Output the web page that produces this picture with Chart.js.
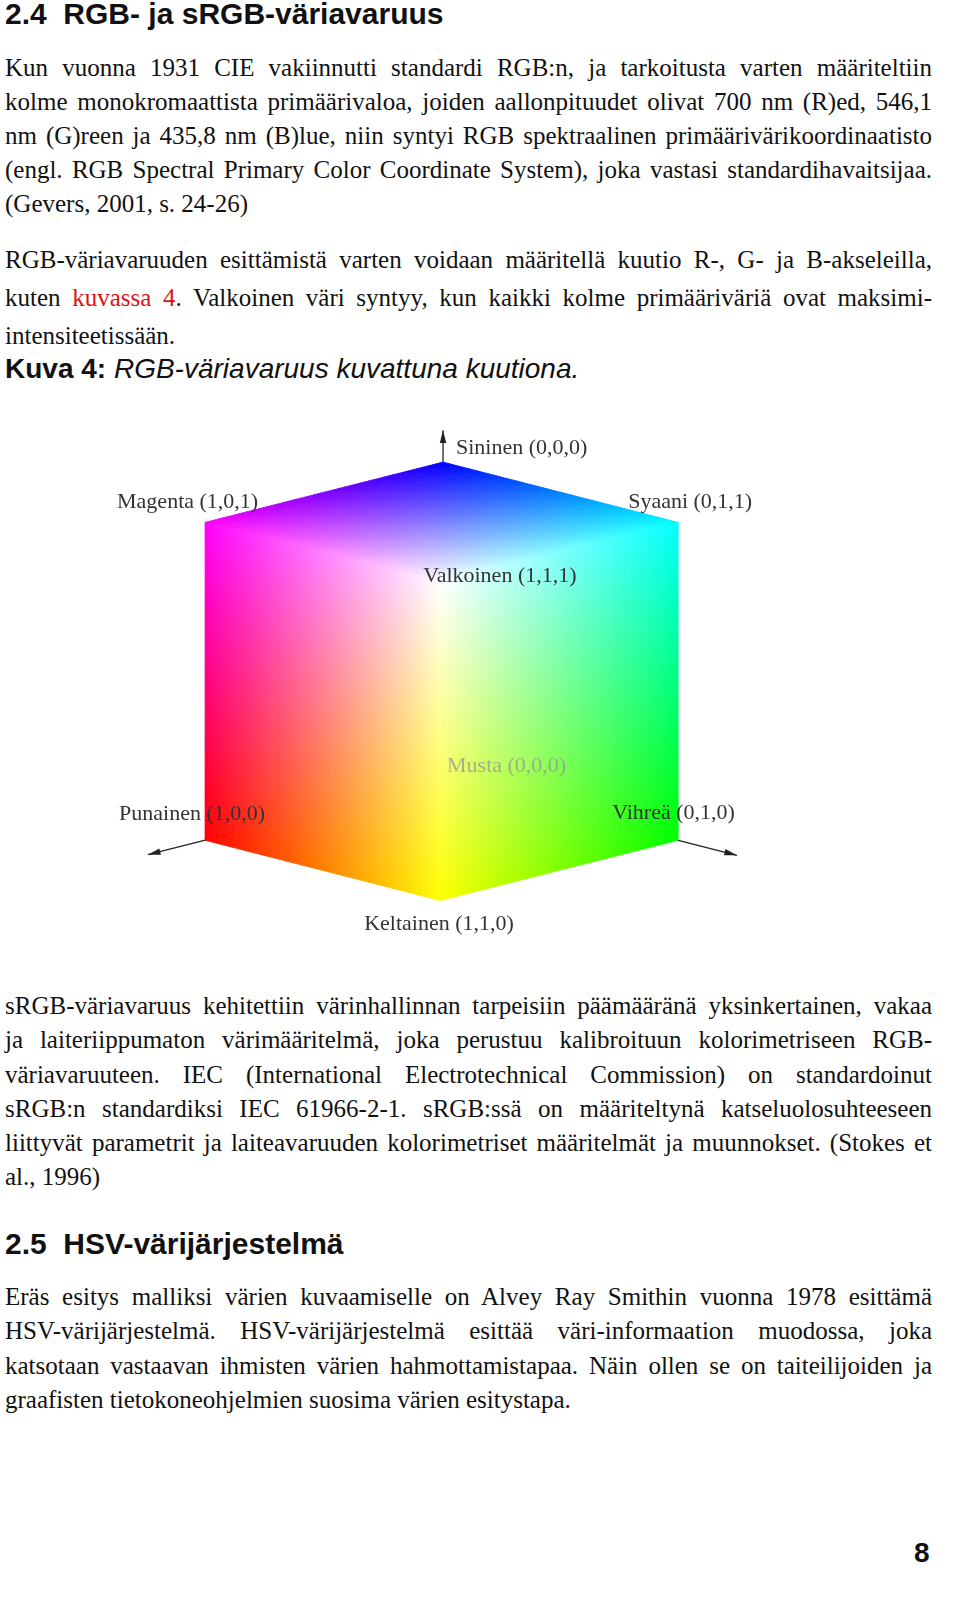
<!DOCTYPE html>
<html><head><meta charset="utf-8">
<script src="https://cdn.jsdelivr.net/npm/chart.js@4"></script>
<style>
body{margin:0;width:960px;height:1610px;background:#fff;position:relative;font-family:"Liberation Serif","DejaVu Serif",serif;color:#111}
.l{position:absolute;left:5px;width:927px;font-size:25px;line-height:28px;white-space:nowrap}
.j{text-align:justify;text-align-last:justify;white-space:normal}
.h{position:absolute;left:5px;font-family:"Liberation Sans",Arial,sans-serif;font-weight:bold;font-size:30px;line-height:32px}
#wrap{position:absolute;left:0;top:400px;width:960px;height:560px}
</style></head><body>
<div class="h" style="top:-2px">2.4&nbsp; RGB- ja sRGB-väriavaruus</div>
<div class="l j" style="top:54px">Kun vuonna 1931 CIE vakiinnutti standardi RGB:n, ja tarkoitusta varten määriteltiin</div>
<div class="l j" style="top:88px">kolme monokromaattista primäärivaloa, joiden aallonpituudet olivat 700 nm (R)ed, 546,1</div>
<div class="l j" style="top:122px">nm (G)reen ja 435,8 nm (B)lue, niin syntyi RGB spektraalinen primäärivärikoordinaatisto</div>
<div class="l j" style="top:156px">(engl. RGB Spectral Primary Color Coordinate System), joka vastasi standardihavaitsijaa.</div>
<div class="l" style="top:190px">(Gevers, 2001, s. 24-26)</div>
<div class="l j" style="top:246px">RGB-väriavaruuden esittämistä varten voidaan määritellä kuutio R-, G- ja B-akseleilla,</div>
<div class="l j" style="top:284px">kuten <span style="color:#d11">kuvassa 4</span>. Valkoinen väri syntyy, kun kaikki kolme primääriväriä ovat maksimi-</div>
<div class="l" style="top:322px">intensiteetissään.</div>
<div class="h" style="top:353px;font-size:28px"><b>Kuva 4:</b> <span style="font-weight:normal;font-style:italic">RGB-väriavaruus kuvattuna kuutiona.</span></div>
<div id="wrap"><canvas id="c"></canvas></div>
<div class="l j" style="top:992px">sRGB-väriavaruus kehitettiin värinhallinnan tarpeisiin päämääränä yksinkertainen, vakaa</div>
<div class="l j" style="top:1026px">ja laiteriippumaton värimääritelmä, joka perustuu kalibroituun kolorimetriseen RGB-</div>
<div class="l j" style="top:1061px">väriavaruuteen. IEC (International Electrotechnical Commission) on standardoinut</div>
<div class="l j" style="top:1095px">sRGB:n standardiksi IEC 61966-2-1. sRGB:ssä on määriteltynä katseluolosuhteeseen</div>
<div class="l j" style="top:1129px">liittyvät parametrit ja laiteavaruuden kolorimetriset määritelmät ja muunnokset. (Stokes et</div>
<div class="l" style="top:1163px">al., 1996)</div>
<div class="h" style="top:1228px">2.5&nbsp; HSV-värijärjestelmä</div>
<div class="l j" style="top:1283px">Eräs esitys malliksi värien kuvaamiselle on Alvey Ray Smithin vuonna 1978 esittämä</div>
<div class="l j" style="top:1317px">HSV-värijärjestelmä. HSV-värijärjestelmä esittää väri-informaation muodossa, joka</div>
<div class="l j" style="top:1352px">katsotaan vastaavan ihmisten värien hahmottamistapaa. Näin ollen se on taiteilijoiden ja</div>
<div class="l" style="top:1386px">graafisten tietokoneohjelmien suosima värien esitystapa.</div>
<div class="h" style="top:1537px;left:914px;font-size:28px">8</div>
<script>
// cube vertices as RGB triples and their labels
const vertexNames = ["Sininen (0,0,0)","Magenta (1,0,1)","Syaani (0,1,1)","Valkoinen (1,1,1)","Musta (0,0,0)","Punainen (1,0,0)","Vihreä (0,1,0)","Keltainen (1,1,0)"];
const vertexRGB = [[0,0,1],[1,0,1],[0,1,1],[1,1,1],[0,0,0],[1,0,0],[0,1,0],[1,1,0]];
const labelOffsets = [[13,-14],[-88,-20],[-50,-20],[-17,-6],[4,-14],[-86,-26],[-66,-27],[-76,24]];
// axis tips in RGB space
const axisTips = [[0,0,1.1],[1.24,0,0],[0,1.25,0]];
// faces (vertex indices, cyclic)
const faces = [[0,1,3,2],[1,3,7,5],[3,2,6,7]];
// projection of RGB to plane
const proj = ([r,g,b]) => ({x:g*0.992-r*1.004, y:b*1.33-(r+g)*0.252});

const ctxEl = document.getElementById('c');
const cubePlugin = {
  id:'cube',
  afterDatasetsDraw(chart){
    const ctx = chart.ctx, xs = chart.scales.x, ys = chart.scales.y;
    const P = rgb => {const p = proj(rgb); return [xs.getPixelForValue(p.x), ys.getPixelForValue(p.y)];};
    const O = P([0,0,0]);
    ctx.save();
    ctx.strokeStyle='#222'; ctx.fillStyle='#222'; ctx.lineWidth=1.3;
    axisTips.forEach(t=>{
      const T=P(t);
      ctx.beginPath(); ctx.moveTo(O[0],O[1]); ctx.lineTo(T[0],T[1]); ctx.stroke();
      const a=Math.atan2(T[1]-O[1],T[0]-O[0]);
      ctx.beginPath(); ctx.moveTo(T[0],T[1]);
      ctx.lineTo(T[0]-13*Math.cos(a-0.25),T[1]-13*Math.sin(a-0.25));
      ctx.lineTo(T[0]-13*Math.cos(a+0.25),T[1]-13*Math.sin(a+0.25));
      ctx.closePath(); ctx.fill();
    });
    const N=70;
    faces.forEach(f=>{
      const c=f.map(i=>vertexRGB[i]);
      const lerp=(a,b,t)=>a.map((v,k)=>v+(b[k]-v)*t);
      const at=(u,v)=>lerp(lerp(c[0],c[1],u),lerp(c[3],c[2],u),v);
      for(let i=0;i<N;i++)for(let j=0;j<N;j++){
        const q=[at(i/N,j/N),at((i+1)/N,j/N),at((i+1)/N,(j+1)/N),at(i/N,(j+1)/N)].map(P);
        const col=at((i+.5)/N,(j+.5)/N).map(v=>Math.round(v*255));
        const s=`rgb(${col[0]},${col[1]},${col[2]})`;
        ctx.fillStyle=s; ctx.strokeStyle=s; ctx.lineWidth=0.8;
        ctx.beginPath(); ctx.moveTo(...q[0]); q.slice(1).forEach(p=>ctx.lineTo(...p)); ctx.closePath(); ctx.fill(); ctx.stroke();
      }
    });
    ctx.font='22px "Liberation Serif", serif'; ctx.textBaseline='middle';
    vertexNames.forEach((n,i)=>{
      const p=P(vertexRGB[i]);
      ctx.fillStyle = i===4 ? 'rgba(150,150,150,0.75)' : '#333';
      ctx.fillText(n,p[0]+labelOffsets[i][0],p[1]+labelOffsets[i][1]);
    });
    ctx.restore();
  }
};
new Chart(ctxEl,{
  type:'scatter',
  data:{datasets:[{data:vertexRGB.map(proj),pointRadius:0}]},
  options:{responsive:true,maintainAspectRatio:false,animation:false,
    layout:{padding:0},
    plugins:{legend:{display:false},tooltip:{enabled:false}},
    scales:{x:{display:false,min:-1.869,max:2.181},y:{display:false,min:-0.753,max:1.590}}},
  plugins:[cubePlugin]
});
</script>
</body></html>
